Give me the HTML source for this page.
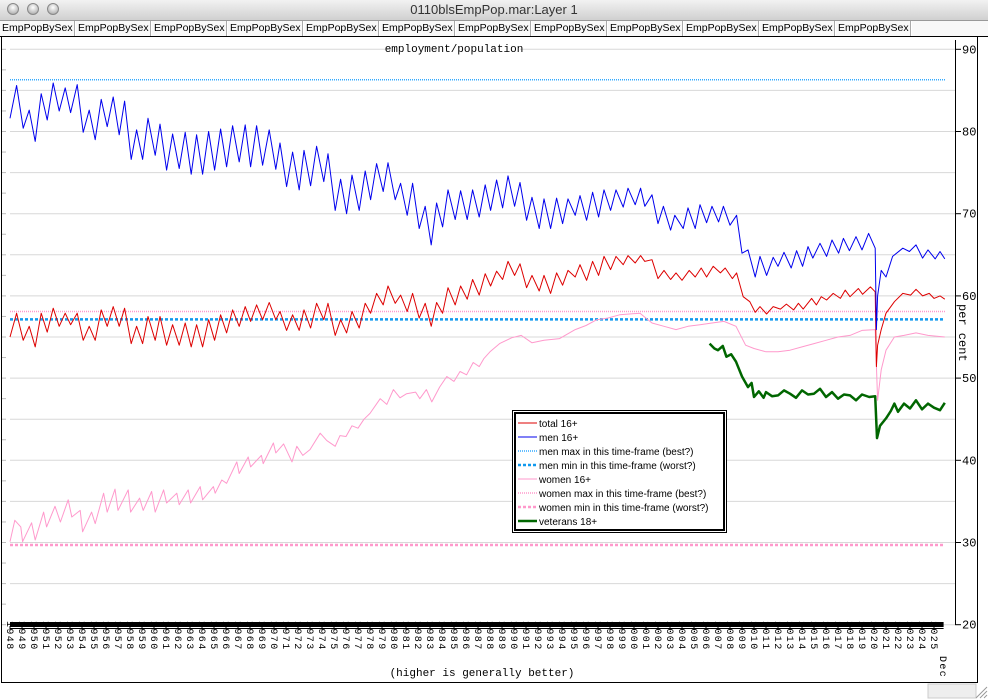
<!DOCTYPE html>
<html><head><meta charset="utf-8">
<style>
html,body{margin:0;padding:0;background:#fff;}
body{width:988px;height:699px;overflow:hidden;position:relative;font-family:"Liberation Sans",sans-serif;}
#titlebar{position:absolute;left:0;top:0;width:988px;height:20px;background:linear-gradient(#f2f2f2,#d0d0d0);border-bottom:1px solid #999;}
.light{position:absolute;top:3px;width:12px;height:12px;border-radius:50%;background:radial-gradient(circle at 50% 35%,#fff,#bbb 70%,#888);border:1px solid #888;box-sizing:border-box;}
#wtitle{position:absolute;left:0;width:988px;top:2px;text-align:center;font-size:13px;color:#333;}
#tabs{position:absolute;left:0;top:21px;width:988px;height:15px;background:#fff;border-bottom:1px solid #000;}
.tab{position:absolute;top:0;height:15px;width:75px;border-right:1px solid #aaa;font-size:10.5px;line-height:15px;padding-left:2px;box-sizing:border-box;background:#f8f8f8;}
svg{position:absolute;left:0;top:0;}
</style></head><body>
<div id="titlebar">
<div class="light" style="left:7px"></div>
<div class="light" style="left:27px"></div>
<div class="light" style="left:47px"></div>
<div id="wtitle">0110blsEmpPop.mar:Layer 1</div>
</div>
<div id="tabs">
<div class="tab" style="left:0px">EmpPopBySex</div>
<div class="tab" style="left:76px">EmpPopBySex</div>
<div class="tab" style="left:152px">EmpPopBySex</div>
<div class="tab" style="left:228px">EmpPopBySex</div>
<div class="tab" style="left:304px">EmpPopBySex</div>
<div class="tab" style="left:380px">EmpPopBySex</div>
<div class="tab" style="left:456px">EmpPopBySex</div>
<div class="tab" style="left:532px">EmpPopBySex</div>
<div class="tab" style="left:608px">EmpPopBySex</div>
<div class="tab" style="left:684px">EmpPopBySex</div>
<div class="tab" style="left:760px">EmpPopBySex</div>
<div class="tab" style="left:836px">EmpPopBySex</div>
<div class="tab" style="left:912px;width:76px;border-right:none"></div>
</div>
<svg id="chart" width="988" height="699" viewBox="0 0 988 699" style="top:0"></svg>
<script>
// ---- data ----
const menYears=[1948.0,1948.55,1949.1,1949.6,1950.1,1950.6,1951.1,1951.6,1952.1,1952.6,1953.05,1953.6,1954.1,1954.6,1955.1,1955.6,1956.1,1956.6,1957.1,1957.55,1958.1,1958.55,1959.05,1959.5,1960.1,1960.5,1961.05,1961.55,1962.1,1962.6,1963.1,1963.55,1964.05,1964.55,1965.05,1965.55,1966.05,1966.55,1967.1,1967.6,1968.05,1968.55,1969.05,1969.6,1970.15,1970.5,1971.05,1971.55,1972.1,1972.5,1973.05,1973.55,1974.15,1974.5,1975.1,1975.55,1976.05,1976.5,1977.1,1977.6,1978.05,1978.55,1979.1,1979.5,1980.1,1980.55,1981.1,1981.55,1982.1,1982.6,1983.1,1983.55,1984.05,1984.5,1985.1,1985.55,1986.1,1986.55,1987.1,1987.6,1988.05,1988.55,1989.05,1989.5,1990.05,1990.5,1991.05,1991.5,1992.1,1992.5,1993.05,1993.55,1994.05,1994.5,1995.1,1995.5,1996.05,1996.55,1997.05,1997.5,1998.05,1998.5,1999.1,1999.5,2000.1,2000.55,2000.9,2001.5,2002.0,2002.45,2003.05,2003.4,2004.1,2004.5,2005.1,2005.5,2006.05,2006.5,2007.05,2007.45,2008.0,2008.55,2009.0,2009.5,2010.1,2010.5,2011.05,2011.6,2012.0,2012.5,2013.1,2013.55,2014.05,2014.5,2014.9,2015.5,2016.05,2016.5,2017.05,2017.45,2017.95,2018.5,2019.0,2019.55,2020.1,2020.2,2020.3,2020.6,2021.0,2021.55,2022.4,2022.95,2023.5,2024.05,2024.5,2025.1,2025.5,2025.9];
const menValues=[81.6,85.6,80.4,82.6,78.8,84.6,81.4,85.9,82.5,85.3,82.3,85.7,79.9,82.6,79.0,83.9,80.6,84.2,79.6,83.7,76.6,80.2,76.6,81.6,77.1,80.9,75.3,79.7,75.5,79.9,74.8,79.6,74.8,80.0,75.3,80.3,75.7,80.7,76.3,80.8,75.7,80.7,75.9,80.2,75.4,78.6,73.3,77.5,72.9,77.7,73.4,78.2,73.9,77.3,70.4,74.2,70.0,74.7,70.4,75.2,71.7,76.1,72.7,76.2,71.7,73.7,69.8,73.7,68.2,70.9,66.2,71.3,68.4,72.9,69.3,72.8,69.3,72.9,69.6,73.5,70.4,74.1,70.7,74.6,70.9,73.8,69.2,72.0,68.2,71.8,68.2,71.9,68.8,71.8,69.8,72.2,69.2,72.6,69.6,72.9,70.4,72.9,70.8,73.1,71.1,73.1,70.9,72.3,68.8,70.9,68.0,69.8,68.2,70.7,68.2,71.1,68.9,70.9,69.0,70.9,68.6,69.8,65.2,65.6,62.3,64.8,62.5,64.7,63.6,65.3,63.4,65.5,63.6,66.0,64.6,66.4,64.8,66.8,65.2,67.0,65.5,67.2,65.6,67.6,65.8,55.9,60.0,63.1,62.3,64.8,65.8,65.4,66.2,64.6,65.6,64.5,65.4,64.5];
const totalYearsTail=[2000.9,2001.5,2002.0,2002.5,2003.05,2003.5,2004.0,2004.6,2005.1,2005.6,2006.05,2006.6,2007.2,2007.6,2008.2,2008.55,2009.1,2009.65,2010.1,2010.5,2011.05,2011.6,2012.2,2012.7,2013.3,2013.7,2014.1,2014.8,2015.2,2015.6,2016.05,2016.6,2017.2,2017.6,2018.0,2018.7,2019.05,2019.7,2020.1,2020.2,2020.3,2020.6,2021.0,2021.7,2022.4,2023.05,2023.5,2024.05,2024.6,2025.0,2025.5,2025.9];
const totalValues=[55.0,57.9,54.6,56.3,53.8,57.9,55.6,58.5,56.3,57.9,56.5,57.9,54.6,56.3,54.6,58.3,56.3,58.7,56.3,58.5,54.2,56.3,54.2,57.5,54.6,57.5,54.0,56.5,54.0,56.7,53.8,56.5,53.8,57.1,54.6,57.7,55.5,58.3,56.3,58.7,56.9,58.9,57.1,59.2,57.1,58.1,55.8,57.7,55.8,58.3,56.1,59.1,57.1,59.1,55.2,57.1,55.5,58.1,56.1,59.1,57.9,60.3,58.9,61.2,59.1,60.1,58.1,60.3,57.3,59.1,56.3,59.2,57.9,61.0,58.9,61.2,59.6,62.0,60.1,62.7,61.2,63.0,62.0,64.2,62.5,63.9,61.0,62.5,60.6,62.5,60.3,62.8,61.3,63.1,62.3,63.8,61.9,64.2,62.5,64.8,63.2,64.8,63.8,64.9,64.0,64.9,64.2,64.4,62.1,63.1,62.0,62.8,61.9,63.1,62.3,63.4,62.3,63.6,62.8,63.4,62.1,62.8,59.9,59.3,58.0,58.7,57.8,58.7,58.4,59.0,58.3,59.1,58.4,59.7,58.9,59.9,59.5,60.3,59.7,60.7,59.9,60.9,60.2,61.1,60.5,51.4,54.0,55.9,57.9,59.3,60.3,60.1,60.8,60.0,60.3,59.7,60.0,59.6];
const womenYears=[1948.0,1948.4,1948.9,1949.05,1949.8,1950.1,1950.8,1951.05,1951.75,1952.2,1952.85,1953.15,1953.85,1954.05,1954.8,1955.1,1955.8,1956.1,1956.75,1957.0,1957.85,1958.05,1958.8,1959.1,1959.8,1960.1,1960.8,1961.05,1961.9,1962.1,1962.85,1963.05,1963.85,1964.05,1964.95,1965.1,1965.65,1966.05,1966.9,1967.1,1967.85,1968.05,1968.95,1969.1,1969.95,1970.15,1970.8,1971.5,1971.9,1972.4,1973.0,1973.85,1974.4,1975.1,1975.5,1976.0,1976.5,1977.0,1977.5,1978.0,1978.85,1979.4,1979.95,1980.5,1981.05,1981.8,1982.15,1982.7,1983.15,1983.8,1984.4,1985.0,1985.5,1986.05,1986.6,1987.1,1987.5,1988.0,1988.8,1989.8,1990.6,1991.5,1992.5,1993.8,1995.1,1996.0,1996.9,1997.8,1998.8,2000.5,2001.5,2002.5,2003.5,2004.5,2005.5,2006.5,2007.5,2008.5,2009.3,2010.0,2011.0,2012.0,2013.0,2014.0,2015.0,2016.0,2017.0,2018.0,2019.0,2020.1,2020.3,2020.6,2021.0,2021.7,2022.5,2023.5,2024.5,2025.9];
const womenValues=[30.1,32.7,31.9,30.1,32.4,30.3,33.7,31.9,34.4,32.5,35.2,33.1,33.9,31.3,33.7,32.3,36.0,33.7,36.5,33.9,36.4,33.7,35.4,33.9,36.2,33.7,36.4,34.8,36.0,34.6,36.4,34.8,36.8,35.2,36.8,36.0,37.6,37.2,39.8,38.4,40.4,39.2,40.6,39.6,42.1,40.9,42.0,39.8,41.7,40.6,41.3,43.3,42.4,41.7,43.0,42.9,44.2,43.9,45.0,45.7,47.5,46.8,48.6,47.6,48.1,48.3,47.5,48.6,47.1,48.9,50.2,49.6,50.8,50.4,51.9,51.4,52.4,53.2,54.2,54.9,55.2,54.3,54.6,54.8,55.9,56.4,57.1,57.3,57.7,57.9,56.7,56.3,55.9,56.3,56.5,56.7,56.9,56.3,54.0,53.6,53.2,53.2,53.4,53.8,54.2,54.6,55.0,55.2,55.8,55.9,47.3,51.0,53.4,55.0,55.2,55.5,55.2,55.0];
const vetYears=[2006.3,2006.7,2007.0,2007.4,2007.7,2008.1,2008.5,2009.0,2009.5,2009.8,2010.0,2010.4,2010.8,2011.0,2011.5,2012.0,2012.5,2013.0,2013.5,2014.0,2014.5,2015.0,2015.5,2016.0,2016.5,2017.0,2017.5,2018.0,2018.5,2019.0,2019.6,2020.1,2020.25,2020.5,2021.0,2021.4,2021.7,2022.0,2022.5,2023.0,2023.5,2024.0,2024.5,2025.0,2025.5,2025.9];
const vetValues=[54.2,53.6,53.4,53.9,52.6,52.9,52.0,50.2,48.9,49.4,47.7,48.4,47.6,48.3,47.8,47.9,48.5,48.1,47.6,48.5,48.0,48.1,48.7,47.7,48.3,47.5,48.0,47.9,47.3,48.0,47.7,47.8,42.7,44.2,45.1,46.0,46.9,45.9,46.9,46.3,47.3,46.2,46.9,46.4,46.1,47.0];
const refLevels=[86.3,57.15,58.1,29.7]; // men max, men min, women max, women min
const yTicks=[20,30,40,50,60,70,80,90];
const legendLabels=["total 16+","men 16+","men max in this time-frame (best?)","men min in this time-frame (worst?)","women 16+","women max in this time-frame (best?)","women min in this time-frame (worst?)","veterans 18+"];

// ---- axes ----
const NS="http://www.w3.org/2000/svg";
const svg=document.getElementById('chart');
const X0=10,PXY=12,Y90=49.3,PXV=8.22;
function xs(yr){return X0+(yr-1948)*PXY;}
function ys(v){return Y90+(90-v)*PXV;}
function mk(tag,attrs,parent){const e=document.createElementNS(NS,tag);for(const k in attrs)e.setAttribute(k,attrs[k]);(parent||svg).appendChild(e);return e;}

let fr=mk('rect',{x:1.5,y:36.5,width:976,height:646,fill:'none',stroke:'#000','stroke-width':1});


for(let v=20;v<=90;v+=5){
  const g=mk('line',{x1:10,x2:955,y1:ys(v),y2:ys(v),stroke:'#d8d8d8','stroke-width':1});
  
  
}
for(let v=20;v<=90;v+=2.5){
  const t=mk('line',{x1:2,x2:6,y1:ys(v),y2:ys(v),stroke:'#bbb','stroke-width':1});
  
  
}
const ttBg=mk('rect',{x:388,y:42,width:132,height:14,fill:'#fff'});


const tt=mk('text',{x:454,y:52,'font-family':'Liberation Mono, monospace','font-size':11,'text-anchor':'middle',fill:'#000'});
tt.textContent='employment/population';


const ra=mk('line',{x1:955.5,x2:955.5,y1:40,y2:ys(20),stroke:'#000','stroke-width':1});


yTicks.forEach(v=>{
  const t=mk('line',{x1:955,x2:961,y1:ys(v),y2:ys(v),stroke:'#000'});
  
  
  const l=mk('text',{x:962,y:ys(v)+4,'font-family':'Liberation Mono, monospace','font-size':12,fill:'#000'});
  l.textContent=v;
  
  
});
const yt=mk('text',{x:0,y:0,'font-family':'Liberation Mono, monospace','font-size':12,fill:'#000',transform:'translate(959,304) rotate(90)'});
yt.textContent='per cent';



const refStyles=[
 {stroke:'#33aaff',w:1.5,dash:'1,1'},
 {stroke:'#1199ee',w:2.5,dash:'3,2'},
 {stroke:'#ff99cc',w:1.5,dash:'1,1'},
 {stroke:'#ff99cc',w:2.5,dash:'3,2'}];
const refNames=['men-max-line','men-min-line','women-max-line','women-min-line'];
refLevels.forEach((v,i)=>{
  const l=mk('line',{x1:10,x2:945,y1:ys(v),y2:ys(v),stroke:refStyles[i].stroke,'stroke-width':refStyles[i].w,'stroke-dasharray':refStyles[i].dash});
  
  
});

function series(yrs,vals,color,w,name){
  const n=Math.min(yrs.length,vals.length);
  let d='';
  for(let i=0;i<n;i++){d+=(i?'L':'M')+xs(yrs[i]).toFixed(1)+','+ys(vals[i]).toFixed(1);}
  const p=mk('path',{d:d,fill:'none',stroke:color,'stroke-width':w,'stroke-linejoin':'round'});
  
  
}
const totalYears=menYears.slice(0,106).concat(totalYearsTail);
series(womenYears,womenValues,'#ff99cc',1,'women-line');
series(totalYears,totalValues,'#dd0000',1,'total-line');
series(menYears,menValues,'#0000ee',1,'men-line');
series(vetYears,vetValues,'#006600',2.5,'veterans-line');

for(let yr=1948;yr<=2025;yr++){
  const x=xs(yr);
  const tk=mk('line',{x1:x,x2:x,y1:626,y2:630,stroke:'#000'});
  
  
  const l=mk('text',{x:0,y:0,'font-family':'Liberation Mono, monospace','font-size':10,'letter-spacing':1.4,fill:'#000',transform:'translate('+(x-3)+',621) rotate(90)'});
  l.textContent=yr;
  
  
}
const dec=mk('text',{x:0,y:0,'font-family':'Liberation Mono, monospace','font-size':10,'letter-spacing':1.4,fill:'#000',transform:'translate(940,656) rotate(90)'});
dec.textContent='Dec';


const bar=mk('rect',{x:10,y:622,width:xs(2025.8)-10,height:5,fill:'#000'});


const xl=mk('line',{x1:10,x2:xs(2025.8),y1:628.5,y2:628.5,stroke:'#000'});


const note=mk('text',{x:482,y:676,'font-family':'Liberation Mono, monospace','font-size':11,'text-anchor':'middle',fill:'#000'});
note.textContent='(higher is generally better)';



const lg=mk('g',{});


mk('rect',{x:512.5,y:410.5,width:214,height:122,fill:'#fff',stroke:'#000','stroke-width':1},lg);
mk('rect',{x:515,y:413,width:209,height:117,fill:'none',stroke:'#000','stroke-width':2},lg);
const lgStyle=[
 {c:'#dd0000',w:1,d:''},{c:'#0000ee',w:1,d:''},{c:'#33aaff',w:1.5,d:'1,1'},{c:'#1199ee',w:2.5,d:'3,2'},
 {c:'#ff99cc',w:1,d:''},{c:'#ff99cc',w:1.5,d:'1,1'},{c:'#ff99cc',w:2.5,d:'3,2'},{c:'#006600',w:2.5,d:''}];
legendLabels.forEach((s,i)=>{
  const yy=423+i*14;
  const ent=mk('g',{},lg);
  
  
  mk('line',{x1:518,x2:537,y1:yy,y2:yy,stroke:lgStyle[i].c,'stroke-width':lgStyle[i].w,'stroke-dasharray':lgStyle[i].d},ent);
  const t=mk('text',{x:539,y:yy+4,'font-family':'Liberation Sans, sans-serif','font-size':10,fill:'#000'},ent);
  t.textContent=s;
});
const sb=mk('rect',{x:928,y:684,width:48,height:14,fill:'#eee',stroke:'#ccc'});


const gr=mk('path',{d:'M976,698 L987,687 M980,698 L987,691 M984,698 L987,695',stroke:'#999',fill:'none'});


</script>
</body></html>
